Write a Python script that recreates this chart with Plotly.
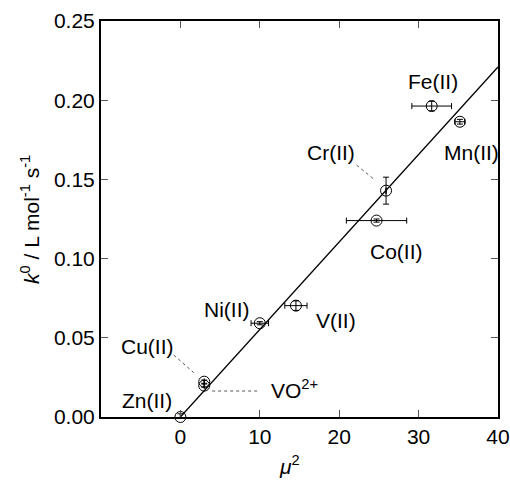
import numpy as np
import plotly.graph_objects as go

# ---- data ----
names = ["Zn(II)", "Cu(II)", "VO2+", "Ni(II)", "V(II)", "Co(II)", "Cr(II)", "Fe(II)", "Mn(II)"]
mu2 = [0.0, 3.0, 3.0, 10.0, 14.55, 24.7, 25.9, 31.65, 35.2]
k0 = [0.0, 0.0223, 0.0198, 0.0592, 0.0703, 0.124, 0.1429, 0.1963, 0.1864]
mu2_err = [0.0, 0.0, 0.0, 1.1, 1.4, 3.8, 0.0, 2.5, 0.6]
k0_err = [0.002, 0.001, 0.001, 0.001, 0.003, 0.001, 0.0085, 0.003, 0.0015]

x_ticks = [0, 10, 20, 30, 40]
y_ticks = [0.00, 0.05, 0.10, 0.15, 0.20, 0.25]

# least-squares fit through origin
x_arr = np.array(mu2)
y_arr = np.array(k0)
slope = float((x_arr * y_arr).sum() / (x_arr ** 2).sum())
fit_x = [0.0, 40.0]
fit_y = [slope * v for v in fit_x]

# ---- label placement (layout) ----
label_text = {
    "Zn(II)": "Zn(II)", "Cu(II)": "Cu(II)", "VO2+": "VO<sup>2+</sup>", "Ni(II)": "Ni(II)",
    "V(II)": "V(II)", "Co(II)": "Co(II)", "Cr(II)": "Cr(II)", "Fe(II)": "Fe(II)", "Mn(II)": "Mn(II)",
}
label_pos = {
    "Zn(II)": (-4.15, 0.0103, "center"),
    "Cu(II)": (-4.09, 0.0448, "center"),
    "VO2+": (11.1, 0.0175, "left"),
    "Ni(II)": (5.83, 0.0676, "center"),
    "V(II)": (19.6, 0.0612, "center"),
    "Co(II)": (27.25, 0.1044, "center"),
    "Cr(II)": (19.0, 0.167, "center"),
    "Fe(II)": (31.8, 0.2115, "center"),
    "Mn(II)": (36.7, 0.1667, "center"),
}
leaders = [
    ((-0.84, 0.0391), (1.68, 0.028)),
    ((4.0, 0.0164), (9.85, 0.0164)),
    ((22.2, 0.159), (24.5, 0.1496)),
]

FONT = "Liberation Sans, Arial, sans-serif"

fig = go.Figure()
fig.add_trace(go.Scatter(
    x=fit_x, y=fit_y, mode="lines",
    line=dict(color="black", width=1.3), hoverinfo="skip", showlegend=False))
fig.add_trace(go.Scatter(
    x=mu2, y=k0, mode="markers", cliponaxis=False,
    marker=dict(symbol="circle-open", size=11, color="black", line=dict(width=1)),
    error_x=dict(type="data", array=mu2_err, visible=True, color="black", thickness=1, width=3),
    error_y=dict(type="data", array=k0_err, visible=True, color="black", thickness=1, width=3),
    text=names, showlegend=False))

for (x0, y0), (x1, y1) in leaders:
    fig.add_shape(type="line", x0=x0, y0=y0, x1=x1, y1=y1, xref="x", yref="y",
                  line=dict(color="#555555", width=1, dash="dot"))

for n in names:
    x, y, anc = label_pos[n]
    fig.add_annotation(x=x, y=y, xref="x", yref="y", text=label_text[n], showarrow=False,
                       xanchor=anc, yanchor="middle", font=dict(family=FONT, size=21, color="black"))

# axis titles
fig.add_annotation(xref="paper", yref="paper", x=-0.179, y=0.5, textangle=-90,
                   text="<i>k</i><sup>0</sup> / L mol<sup>-1</sup> s<sup>-1</sup>",
                   showarrow=False, xanchor="center", yanchor="middle",
                   font=dict(family=FONT, size=21, color="black"))
fig.add_annotation(xref="paper", yref="paper", x=0.475, y=-0.12,
                   text="<i>μ</i><sup>2</sup>", showarrow=False, xanchor="center", yanchor="middle",
                   font=dict(family=FONT, size=21, color="black"))

axis_common = dict(showgrid=False, zeroline=False, showline=True, linecolor="black", linewidth=2,
                   mirror="ticks", ticks="inside", ticklen=7, tickwidth=1, tickcolor="#555555",
                   automargin=False,
                   tickfont=dict(family=FONT, size=21, color="black"))
fig.update_xaxes(range=[-10, 40], tickvals=x_ticks, ticktext=[str(v) for v in x_ticks], **axis_common)
fig.update_yaxes(range=[0, 0.25], tickvals=y_ticks, ticktext=[f"{v:.2f}" for v in y_ticks], **axis_common)

fig.update_layout(width=510, height=481, margin=dict(l=101, r=12, t=21, b=64, pad=0, autoexpand=False),
                  plot_bgcolor="white", paper_bgcolor="white", font=dict(family=FONT))
fig.write_html("out.html", config={"displayModeBar": False},
               post_script="document.body.style.margin='0';document.body.style.overflow='hidden';")
